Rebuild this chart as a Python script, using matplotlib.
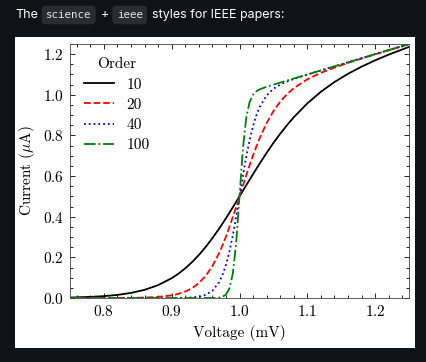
import matplotlib
matplotlib.use("Agg")
import matplotlib.pyplot as plt
from matplotlib.patches import Rectangle
import numpy as np

# voltage samples (mV)
voltage = [0.75, 0.78, 0.80, 0.82, 0.84, 0.86, 0.88, 0.90, 0.91, 0.92,
           0.93, 0.94, 0.95, 0.96, 0.97, 0.975, 0.98, 0.985, 0.99, 0.995,
           1.00, 1.005, 1.01, 1.015, 1.02, 1.025, 1.03, 1.04, 1.05, 1.06,
           1.07, 1.08, 1.10, 1.12, 1.14, 1.16, 1.18, 1.20, 1.22, 1.25]

# current (uA), one list per order
current_10 = [0.00237, 0.00538, 0.00912, 0.01521, 0.02494, 0.04015, 0.06333, 0.09755, 0.11983, 0.14607,
              0.17651, 0.21138, 0.25068, 0.29429, 0.34168, 0.36664, 0.39233, 0.41862, 0.44543, 0.47259,
              0.50000, 0.52754, 0.55508, 0.58251, 0.60971, 0.63657, 0.66298, 0.71411, 0.76314, 0.80805,
              0.85029, 0.88923, 0.95764, 1.01482, 1.06269, 1.10330, 1.13845, 1.16950, 1.19756, 1.23575]
current_20 = [0.00001, 0.00004, 0.00011, 0.00029, 0.00079, 0.00206, 0.00526, 0.01311, 0.02046, 0.03163,
              0.04839, 0.07297, 0.10819, 0.15688, 0.22138, 0.25979, 0.30212, 0.34796, 0.39682, 0.44779,
              0.50000, 0.55245, 0.60420, 0.65432, 0.70207, 0.74683, 0.78833, 0.86071, 0.91942, 0.96607,
              1.00302, 1.03247, 1.07622, 1.10809, 1.13399, 1.15695, 1.17843, 1.19918, 1.21957, 1.24983]
current_40 = [0.0, 0.0, 0.0, 0.0, 0.0, 0.00001, 0.00003, 0.00020, 0.00048, 0.00117,
              0.00279, 0.00661, 0.01543, 0.03529, 0.07801, 0.11366, 0.16241, 0.22641, 0.30609, 0.39906,
              0.50000, 0.60145, 0.69603, 0.77844, 0.84641, 0.90016, 0.94152, 0.99676, 1.02923, 1.05007,
              1.06525, 1.07772, 1.09946, 1.11987, 1.13998, 1.16000, 1.18000, 1.20000, 1.22000, 1.25000]
current_100 = [0.0, 0.0, 0.0, 0.0, 0.0, 0.0, 0.0, 0.0, 0.0, 0.0,
               0.0, 0.0, 0.00003, 0.00027, 0.00219, 0.00613, 0.01694, 0.04570, 0.11698, 0.26710,
               0.50000, 0.73424, 0.88855, 0.96583, 1.00094, 1.01771, 1.02722, 1.03959, 1.04998, 1.06000,
               1.07000, 1.08000, 1.10000, 1.12000, 1.14000, 1.16000, 1.18000, 1.20000, 1.22000, 1.25000]

orders = ['10', '20', '40', '100']
series = [current_10, current_20, current_40, current_100]
colors = ['k', 'r', 'b', 'g']
styles = ['-', '--', ':', '-.']

bg = '#111217'
plt.rcParams.update({
    'font.family': 'serif',
    'font.serif': ['cmr10'],
    'mathtext.fontset': 'cm',
    'axes.formatter.use_mathtext': True,
    'font.size': 11,
    'axes.linewidth': 0.6,
    'xtick.direction': 'in',
    'ytick.direction': 'in',
    'xtick.top': True,
    'ytick.right': True,
    'xtick.major.size': 3.8,
    'ytick.major.size': 3.8,
    'xtick.minor.size': 1.9,
    'ytick.minor.size': 1.9,
    'xtick.major.width': 0.6,
    'ytick.major.width': 0.6,
    'xtick.minor.width': 0.6,
    'ytick.minor.width': 0.6,
    'xtick.minor.visible': True,
    'ytick.minor.visible': True,
    'xtick.major.pad': 4.5,
    'ytick.major.pad': 4.5,
})

fig = plt.figure(figsize=(4.26, 3.62), dpi=100, facecolor=bg)
# white card behind the plot
card = Rectangle((15 / 426, 14 / 362), 400 / 426, 311 / 362,
                 transform=fig.transFigure, facecolor='white',
                 edgecolor='none', zorder=-10)
fig.add_artist(card)

ax = fig.add_axes([70 / 426, 64 / 362, 339 / 426, 254 / 362])
ax.set_zorder(1)
x = np.array(voltage)
for lab, y, c, ls in zip(orders, series, colors, styles):
    ax.plot(x, y, color=c, linestyle=ls, linewidth=1.3, label=lab)

ax.legend(title='Order', frameon=False, loc='upper left', handlelength=2.0,
          labelspacing=0.42)
ax.set_xlim(min(voltage), max(voltage))
ax.set_ylim(0, max(current_100))
ax.set_xlabel('Voltage (mV)')
ax.set_ylabel(r'Current ($\mu$A)')
for s in ax.spines.values():
    s.set_color('#444444')

# heading above the card
fig.canvas.draw()
r = fig.canvas.get_renderer()
pieces = [('The', False), ('science', True), ('+', False), ('ieee', True),
          ('styles for IEEE papers:', False)]
xpos = 15
for txt, code in pieces:
    if code:
        t = fig.text((xpos + 4) / 426, 1 - 15 / 362, txt, color='#e6e6e6',
                     family='DejaVu Sans Mono', fontsize=7.8, va='center',
                     bbox=dict(boxstyle='round,pad=0.4,rounding_size=0.4',
                               facecolor='#2a2c32', edgecolor='none'))
        w = t.get_window_extent(r).width
        xpos += 4 + w + 4 + 5
    else:
        t = fig.text(xpos / 426, 1 - 15 / 362, txt, color='white',
                     family='Inter', fontsize=9.0, va='center')
        w = t.get_window_extent(r).width
        xpos += w + 4

fig.savefig('out.png', dpi=100, facecolor=bg)
